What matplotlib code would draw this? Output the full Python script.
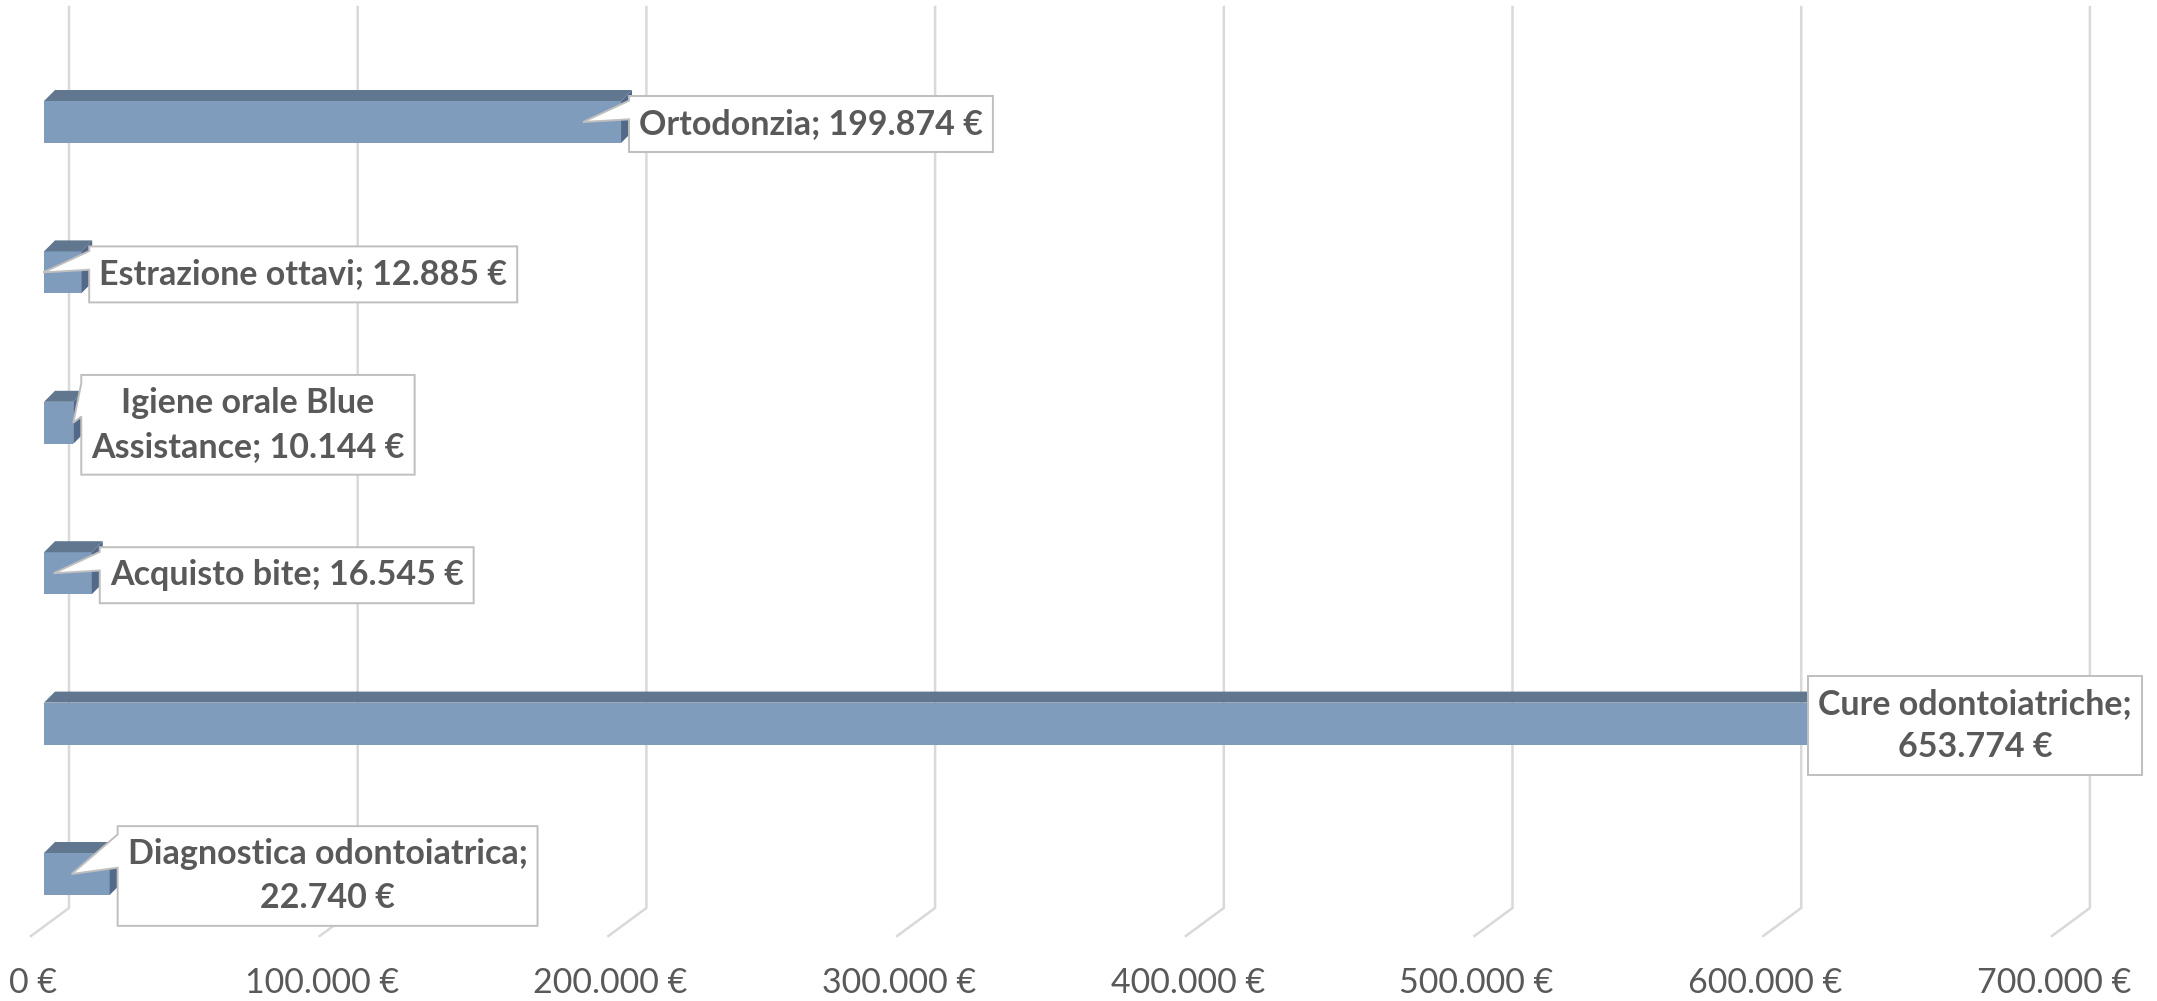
import matplotlib
matplotlib.use('Agg')
import matplotlib.pyplot as plt
import numpy as np
from matplotlib.patches import Polygon

plt.rcParams['font.family'] = ['Lato', 'DejaVu Sans']

# voci di spesa (dal basso verso l'alto) e importi in euro
voci = ['Diagnostica odontoiatrica', 'Cure odontoiatriche', 'Acquisto bite',
        'Igiene orale Blue\nAssistance', 'Estrazione ottavi', 'Ortodonzia']
importi = [22740, 653774, 16545, 10144, 12885, 199874]
separatori = ['\n', '\n', ' ', ' ', ' ', ' ']
valori_asse = [0, 100000, 200000, 300000, 400000, 500000, 600000, 700000]


def euro(v):
    return f"{v:,}".replace(',', '.') + ' €'


W, H = 2157, 1001
fig = plt.figure(figsize=(W / 100, H / 100), dpi=100)
ax = fig.add_axes([0, 0, 1, 1])
ax.set_axis_off()

# scala: pixel per euro, pixel per categoria
sx = 288.7 / 100000
sy = 150.4
x0, y0 = 44, 874
ax.set_xlim(-x0 / sx, (W - x0) / sx)
ax.set_ylim((y0 - H) / sy, y0 / sy)


def px(d):
    return d / sx


def py(d):
    return d / sy


col_griglia = '#d9d9d9'
col_testo = '#595959'
fs = 24.5

# griglia in prospettiva: parete di fondo + pavimento
y_alto = py(y0 - 7)
y_fondo = py(y0 - 908)
y_fronte = py(y0 - 936)
for v in valori_asse:
    xb = v + px(25)
    xf = v + px(-13)
    ax.plot([xb, xb, xf], [y_alto, y_fondo, y_fronte], color=col_griglia,
            lw=1.8, solid_joinstyle='miter', zorder=1)
    ax.text(xf + px(2), py(y0 - 983), euro(v), ha='center', va='center',
            fontsize=fs, color=col_testo)

# barre 3D: faccia frontale, faccia superiore, fianco
mezza = py(21)
dx, dy = px(11), py(11)
pos = np.arange(len(importi))
ax.barh(pos, importi, height=2 * mezza, color='#7f9cbd', zorder=2)
for i, v in zip(pos, importi):
    top = i + mezza
    ax.add_patch(Polygon([(0, top), (v, top), (v + dx, top + dy), (dx, top + dy)],
                         closed=True, facecolor='#60778f', edgecolor='none', zorder=2))
    ax.add_patch(Polygon([(v, i - mezza), (v, top), (v + dx, top + dy), (v + dx, i - mezza + dy)],
                         closed=True, facecolor='#52698a', edgecolor='none', zorder=2))

# etichette a fumetto
punte = [-38, -38, -38, 0, -38, -38]
pad_x, pad_y = 10, 12
fig.canvas.draw()
r = fig.canvas.get_renderer()
inv = ax.transData.inverted()
for i, (voce, v, sep, dp) in enumerate(zip(voci, importi, separatori, punte)):
    t = ax.text(0, i, f"{voce};{sep}{euro(v)}", ha='center', va='center',
                fontsize=fs, fontweight='bold', color=col_testo,
                multialignment='center', linespacing=1.45, zorder=6)
    bb = t.get_window_extent(r)
    w, h = bb.width + 2 * pad_x, bb.height + 2 * pad_y
    fx, cy = ax.transData.transform((v, i))
    cy -= 2
    L = min(fx + 8, W - 15 - w)
    R, T, B = L + w, cy + h / 2, cy - h / 2
    tip = (fx + dp, cy + 2)
    pts = [(L, T), (R, T), (R, B), (L, B)]
    if tip[0] < L:
        pts += [(L, T - 5 * h / 12), tip, (L, T - h / 12)]
    ax.add_patch(Polygon(inv.transform(pts), closed=True, facecolor='white',
                         edgecolor='#bfbfbf', lw=1.4, zorder=5))
    t.set_position(inv.transform((L + w / 2, cy)))

fig.savefig('out.png', dpi=100)
